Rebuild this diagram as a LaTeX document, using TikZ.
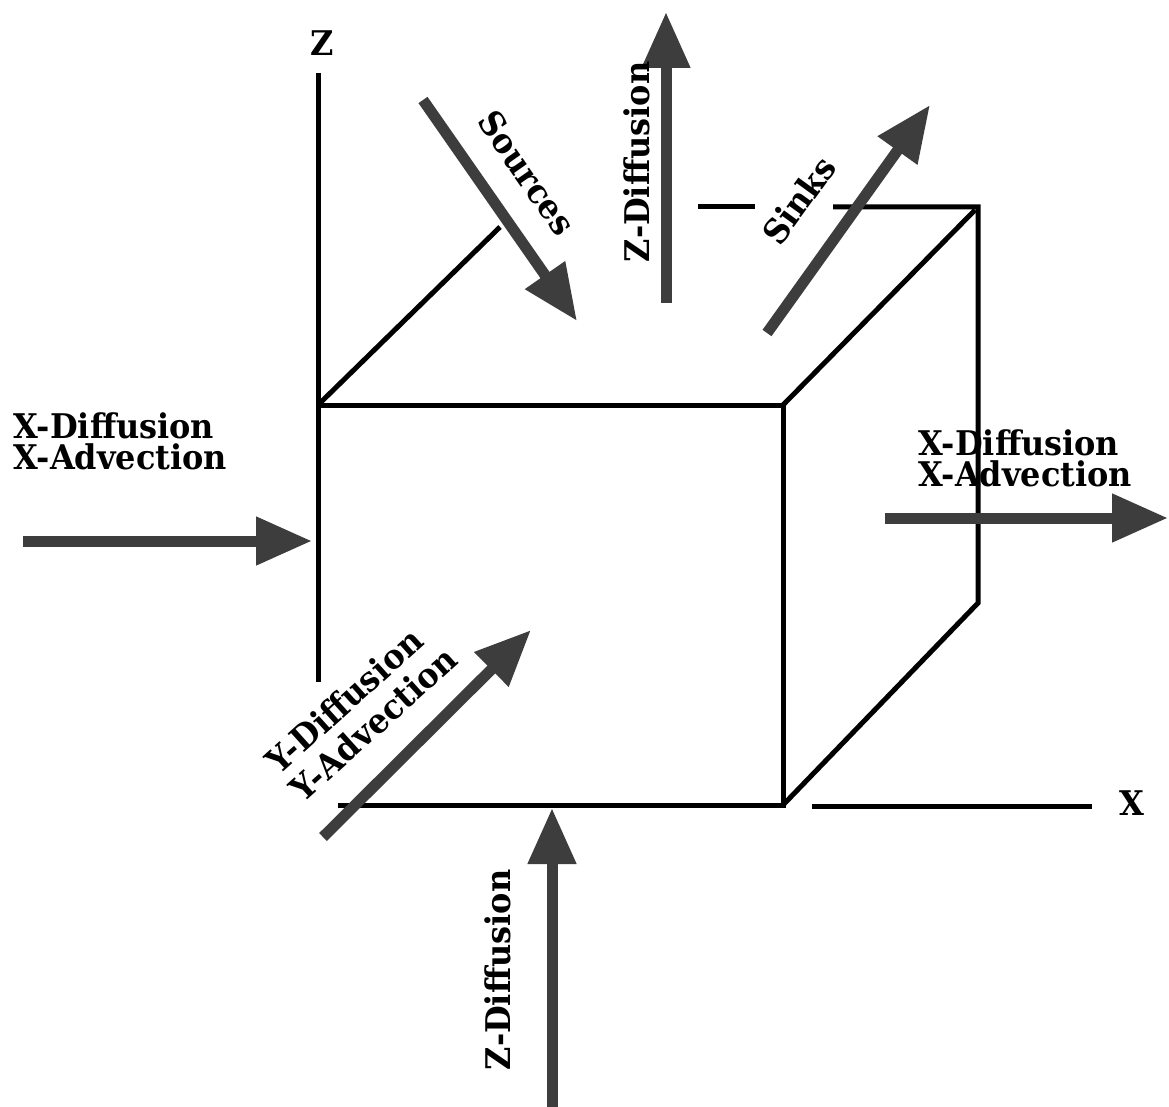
\documentclass[tikz,border=0pt]{standalone}
\usepackage{fontspec}
\setmainfont{DejaVu Serif}[FakeStretch=0.94]
\usetikzlibrary{arrows.meta}
\definecolor{fluxgray}{gray}{0.24}
\begin{document}
\begin{tikzpicture}[x=1pt,y=-1pt,
  edge/.style={line width=5pt, black},
  flux/.style={line width=11pt, draw=fluxgray, -{Triangle[length=56pt,width=46pt]}},
  lab/.style={font=\fontsize{34}{31}\selectfont\bfseries, inner sep=0pt, align=left, text=black},
]
\useasboundingbox[fill=white] (0,0) rectangle (1169,1107);
% cube corners
\coordinate (ztop) at (318,73);
\coordinate (A) at (318,405);
\coordinate (Aend) at (318,682);
\coordinate (B) at (783,405);
\coordinate (C) at (783,805);
\coordinate (Cl) at (338,805);
\coordinate (BTL) at (500,227);
\coordinate (BTR) at (978,207);
\coordinate (BTRd) at (975,210);
\coordinate (BTs) at (833,207);
\coordinate (BBR) at (978,603);
\coordinate (d1) at (698,207);
\coordinate (d2) at (755,207);
\coordinate (xs) at (812,806);
\coordinate (xe) at (1092,806);
% edges
\draw[edge] (ztop) -- (Aend);
\draw[edge] (A) -- (B) -- (C) -- (Cl);
\draw[edge] (A) -- (BTL);
\draw[edge] (B) -- (BTRd);
\draw[edge] (BTs) -- (BTR) -- (BBR) -- (C);
\draw[edge] (d1) -- (d2);
\draw[edge] (xs) -- (xe);
% axis labels
\node[lab] (zl) at (322,43) {Z};
\node[lab] (xl) at (1132,803) {X};
% arrow end points
\coordinate (xl0) at (23,541);   \coordinate (xl1) at (312,541);
\coordinate (xr0) at (885,518);  \coordinate (xr1) at (1168,518);
\coordinate (zt0) at (666,303);  \coordinate (zt1) at (666,12);
\coordinate (so0) at (423,100);  \coordinate (so1) at (577,321);
\coordinate (si0) at (767,333);  \coordinate (si1) at (930,105);
\coordinate (y0) at (323,837);   \coordinate (y1) at (531,630);
\coordinate (zb0) at (552,1107); \coordinate (zb1) at (552,808);
\draw[flux] (xl0) -- (xl1);
\draw[flux] (xr0) -- (xr1);
\draw[flux] (zt0) -- (zt1);
\draw[flux] (so0) -- (so1);
\draw[flux] (si0) -- (si1);
\draw[flux] (y0) -- (y1);
\draw[flux] (zb0) -- (zb1);
% labels
\node[lab, anchor=west] (lx) at (13,441) {X-Diffusion\\X-Advection};
\node[lab, anchor=west] (rx) at (918,458) {X-Diffusion\\X-Advection};
\node[lab, rotate=90] (zt) at (637,162) {Z-Diffusion};
\node[lab, rotate=-55] (so) at (527,173) {Sources};
\node[lab, rotate=54] (si) at (799,200) {Sinks};
\node[lab, rotate=42, font=\fontsize{34}{37}\selectfont\bfseries] (yl) at (361,710) {Y-Diffusion\\Y-Advection};
\node[lab, rotate=90] (zb) at (498,970) {Z-Diffusion};
\end{tikzpicture}
\end{document}
